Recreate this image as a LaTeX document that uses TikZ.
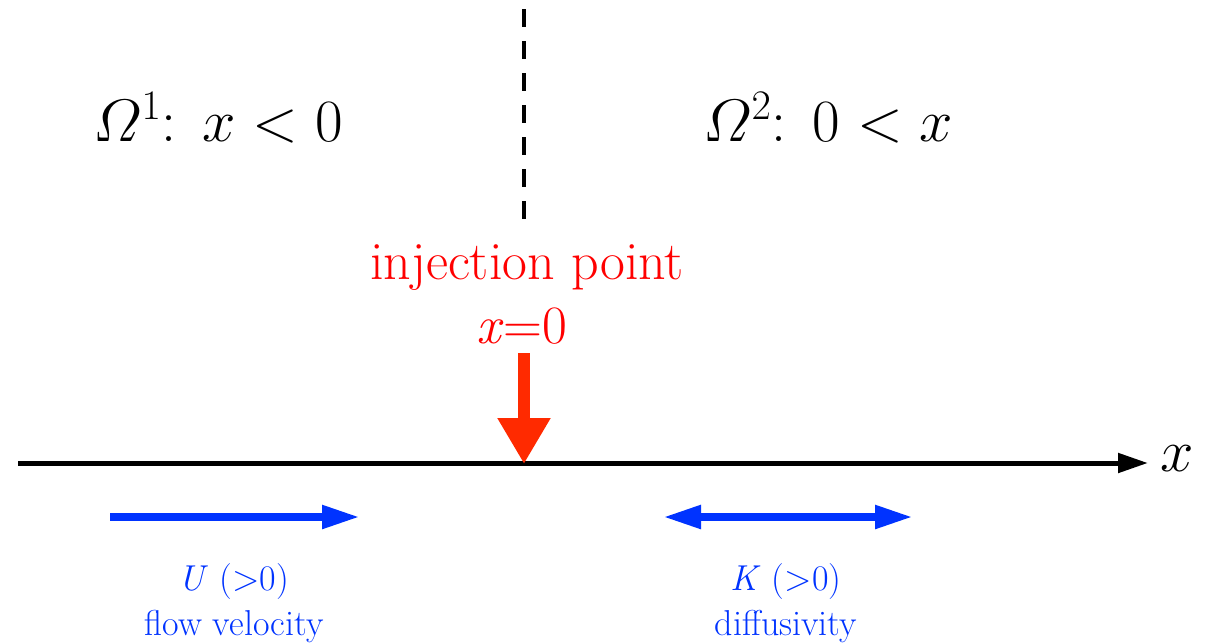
\documentclass[tikz,border=0pt]{standalone}
\usepackage{fix-cm}
\usepackage{fontspec}
\usetikzlibrary{arrows.meta}
\definecolor{injred}{HTML}{FF0000}
\definecolor{arrred}{HTML}{FF2A00}
\definecolor{flowblue}{HTML}{0033FF}
\begin{document}
\begin{tikzpicture}[x=1pt,y=-1pt,
  regionlabel/.style={inner sep=0pt,font=\fontsize{60}{72}\selectfont},
  redlabel/.style={inner sep=0pt,text=injred,font=\rmfamily\fontsize{54}{64}\selectfont},
  bluelabel/.style={inner sep=0pt,text=flowblue,align=center,font=\rmfamily\fontsize{36}{45}\selectfont},
  axisline/.style={line width=5pt,-{Triangle[length=30pt,width=19pt]}},
  injarrow/.style={arrred,line width=12pt,-{Triangle[length=46pt,width=50pt]}},
  bluearrow/.style={flowblue,line width=8pt,-{Triangle[length=38pt,width=22pt]}},
  bluedouble/.style={flowblue,line width=8pt,{Triangle[length=38pt,width=22pt]}-{Triangle[length=38pt,width=22pt]}},
  divider/.style={line width=4pt,dash pattern=on 18pt off 14pt}]
\useasboundingbox (0,0) rectangle (1209,643);
% dashed divider
\coordinate (dtop) at (524,9);
\coordinate (dbot) at (524,220);
\draw[divider] (dtop) -- (dbot);
% domain labels
\node[regionlabel] (om1) at (218,118) {$\mathnormal{\Omega}^{\scriptstyle 1}{:}\;\, x < 0$};
\node[regionlabel] (om2) at (828,118) {$\mathnormal{\Omega}^{\scriptstyle 2}{:}\;\, 0 < x$};
% axis
\coordinate (ax0) at (18,463);
\coordinate (ax1) at (1148,463);
\draw[axisline] (ax0) -- (ax1);
\node[regionlabel,anchor=west] (xl) at (1160,459) {$x$};
% injection
\node[redlabel] (inj) at (527,268) {injection point};
\node[redlabel] (x0) at (522,326) {\textit{x}=0};
\coordinate (inj0) at (524,353);
\coordinate (inj1) at (524,464);
\draw[injarrow] (inj0) -- (inj1);
% flow velocity
\coordinate (u0) at (110,517);
\coordinate (u1) at (360,517);
\draw[bluearrow] (u0) -- (u1);
\node[bluelabel] (ul) at (234,603) {\textit{U} (>0)\\flow velocity};
% diffusivity
\coordinate (k0) at (663,517);
\coordinate (k1) at (913,517);
\draw[bluedouble] (k0) -- (k1);
\node[bluelabel] (kl) at (786,603) {\textit{K} (>0)\\diffusivity};
\end{tikzpicture}
\end{document}
